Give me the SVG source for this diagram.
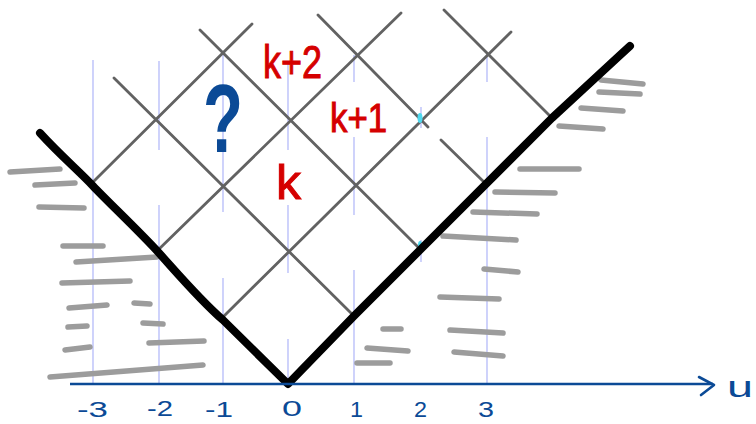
<svg xmlns="http://www.w3.org/2000/svg" width="756" height="424" viewBox="0 0 756 424">
<style>
.vl{stroke:#c3c8fa;stroke-width:1.6;fill:none}
.gl{stroke:#626262;stroke-width:2.8;fill:none;stroke-linecap:round}
.ht{stroke:#9c9c9c;stroke-width:5.5;fill:none;stroke-linecap:round}
.red{fill:#d50000;stroke:#d50000;stroke-width:1;font-family:"Liberation Sans",sans-serif}
.blue{fill:#0b4a96;font-family:"Liberation Sans",sans-serif}
</style>
<rect width="756" height="424" fill="#fff"/>
<g id="verticals">
<path class="vl" d="M93,60V384 M159,61V150 M159,205V384 M223,53V212 M223,278V384 M288,63V150 M288,205V273 M288,339V384 M354,55V82 M354,137V215 M354,270V384 M421,107V128 M421,240V262 M487,53V82 M487,137V384"/>
</g>
<g id="hatching">
<path class="ht" d="M10,172L60,169 M35,185L75,183 M39,207L84,208 M63,246L103,246 M76,262L157,257 M62,283L130,281 M69,308L107,305 M134,303L150,304 M68,327L87,326 M143,323L163,324 M65,350L90,347 M149,343L204,341 M50,377L203,365"/>
<path class="ht" d="M601,80L643,84 M599,92L640,94 M581,108L623,111 M559,126L603,129 M520,169L579,169 M495,192L555,193 M473,212L537,214 M443,236L516,240 M484,269L518,272 M440,297L499,299 M450,330L503,333 M454,352L503,356 M383,329L401,329 M367,348L408,351 M357,363L390,363"/>
</g>
<g id="grid">
<path class="gl" d="M223,317L511,32 M156,252L401,13 M91,184L252,24"/>
<path class="gl" d="M354,316L114,78 M420,249L200,30 M428,127L318,15 M486,184L441,140 M552,118L444,10"/>
</g>
<g id="marks" fill="#4fd8ee">
<ellipse cx="420" cy="118" rx="2.5" ry="5"/>
<ellipse cx="420" cy="245" rx="2" ry="4"/>
</g>
<g id="lightcone">
<path d="M40,133C60,155 80,172 93,186S140,232 159,253S200,300 223,320L288,384L354,316L420,250L552,118L618,57L630,46" fill="none" stroke="#000" stroke-width="8" stroke-linecap="round" stroke-linejoin="round"/>
</g>
<g id="axis">
<path d="M70,384H713" stroke="#0b4a96" stroke-width="2.6" fill="none"/>
<path d="M699,377L714,385L701,395" stroke="#0b4a96" stroke-width="2.6" fill="none" stroke-linecap="round" stroke-linejoin="round"/>
<text class="blue" x="727" y="397" font-size="30" textLength="26" lengthAdjust="spacingAndGlyphs">u</text>
</g>
<g id="ticks" font-size="22">
<text class="blue" x="77" y="417" textLength="31" lengthAdjust="spacingAndGlyphs">-3</text>
<text class="blue" x="147" y="416" textLength="26" lengthAdjust="spacingAndGlyphs">-2</text>
<text class="blue" x="205" y="417" textLength="28" lengthAdjust="spacingAndGlyphs">-1</text>
<text class="blue" x="282" y="416" textLength="20" lengthAdjust="spacingAndGlyphs">0</text>
<text class="blue" x="350" y="417" textLength="13" lengthAdjust="spacingAndGlyphs">1</text>
<text class="blue" x="414" y="417" textLength="13" lengthAdjust="spacingAndGlyphs">2</text>
<text class="blue" x="478" y="417" textLength="16" lengthAdjust="spacingAndGlyphs">3</text>
</g>
<g id="labels">
<text class="red" x="263" y="78" font-size="46" textLength="59" lengthAdjust="spacingAndGlyphs">k+2</text>
<text class="red" x="330" y="132" font-size="40" textLength="57" lengthAdjust="spacingAndGlyphs">k+1</text>
<text class="red" x="276" y="199" font-size="48" textLength="25" lengthAdjust="spacingAndGlyphs">k</text>
<text class="blue" x="203" y="152" font-size="96" font-weight="bold" textLength="40" lengthAdjust="spacingAndGlyphs">?</text>
</g>
</svg>
